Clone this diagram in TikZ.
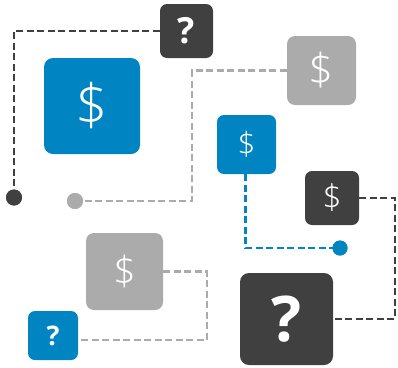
\documentclass[tikz,border=0pt]{standalone}
\usepackage{fontspec}
\setmainfont{Open Sans}
\newfontfamily\lightfont{Open Sans Light}
\definecolor{cblue}{HTML}{0084C2}
\definecolor{cdark}{HTML}{404040}
\definecolor{cgray}{HTML}{ABABAB}
\tikzset{
  box/.style={rectangle, rounded corners=7pt, inner sep=0pt, text=white, align=center},
  conn/.style={line width=2.6pt, dash pattern=on 7pt off 3.5pt},
  dotnode/.style={circle, inner sep=0pt, minimum size=#1},
}
\newcommand{\dol}[1]{\fontsize{#1}{#1}\selectfont\lightfont\$}
\newcommand{\qm}[1]{\fontsize{#1}{#1}\selectfont\bfseries ?}
\begin{document}
\begin{tikzpicture}[x=1pt,y=-1pt]
\useasboundingbox (0,0) rectangle (398,367);
% boxes
\node[box, fill=cdark, minimum width=53pt, minimum height=54pt] (q1) at (186.5,31) {\qm{36}};
\node[box, fill=cblue, minimum width=96pt, minimum height=96pt, rounded corners=9pt] (b1) at (92,106) {\dol{57}};
\node[box, fill=cgray, minimum width=69pt, minimum height=69pt, rounded corners=8pt] (g1) at (321.5,70.5) {\dol{44}};
\node[box, fill=cblue, minimum width=59pt, minimum height=59pt] (b2) at (246.5,144.5) {\dol{32}};
\node[box, fill=cdark, minimum width=54pt, minimum height=54pt] (d1) at (332,198) {\dol{34}};
\node[box, fill=cdark, minimum width=93pt, minimum height=92pt, rounded corners=9pt] (q2) at (286.5,319) {\qm{63}};
\node[box, fill=cgray, minimum width=77pt, minimum height=77pt, rounded corners=8pt] (g2) at (124.5,271.5) {\dol{40}};
\node[box, fill=cblue, minimum width=50pt, minimum height=49pt] (q3) at (53,335.5) {\qm{27}};
% dots
\node[dotnode=16pt, fill=cdark] (p1) at (14,197.5) {};
\node[dotnode=16pt, fill=cgray] (p2) at (75,201) {};
\node[dotnode=15pt, fill=cblue] (p3) at (340,248) {};
% corner coordinates
\coordinate (ca) at (14,31);
\coordinate (cb) at (192,201);
\coordinate (cc) at (245.5,248);
\coordinate (cd) at (395,319);
\coordinate (ce) at (207,340);
% connectors
\draw[conn, cdark] (q1.west) -- (ca) -- (p1.center);
\draw[conn, cgray] (g1.west) -| (cb) -- (p2.center);
\draw[conn, cblue] (b2.south -| cc) -- (cc) -- (p3.center);
\draw[conn, cdark] (d1.east) -| (cd) -- (q2.east);
\draw[conn, cgray] (g2.east) -| (ce) -- (q3.east |- ce);
% redraw dots on top
\fill[cdark] (p1) circle (8pt);
\fill[cgray] (p2) circle (8pt);
\fill[cblue] (p3) circle (7.5pt);
\end{tikzpicture}
\end{document}
